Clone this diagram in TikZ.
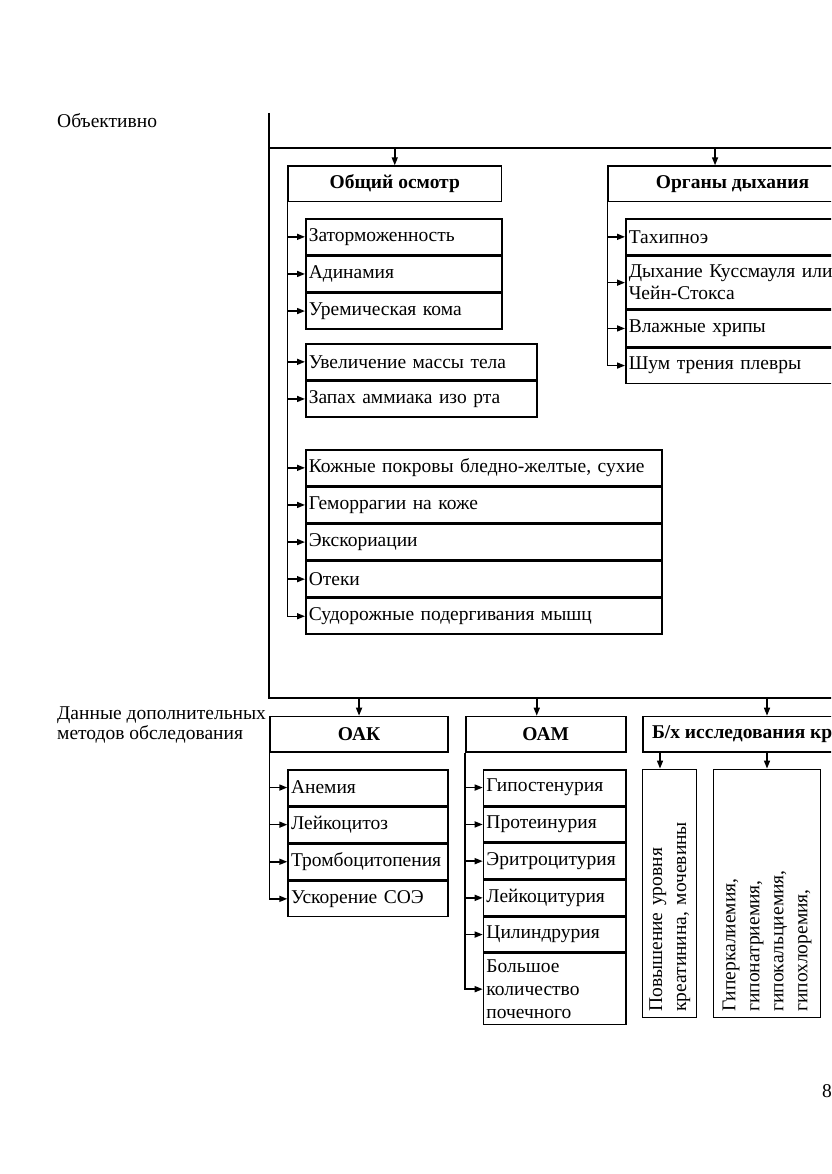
\documentclass[tikz,border=0pt]{standalone}
\usepackage{fontspec}
\setmainfont{Liberation Serif}
\usetikzlibrary{arrows.meta,positioning}

\tikzset{
	txt/.style={font=\fontsize{19.5}{22}\selectfont},
	link/.style={line width=1.5pt},
	arr/.style={line width=1.5pt, -{Triangle[length=8pt,width=6pt]}},
	head/.style={draw, line width=1.5pt, anchor=north west, minimum height=35.5pt, inner sep=0pt, font=\bfseries\fontsize{19.5}{22}\selectfont},
	item/.style={draw, line width=1.5pt, anchor=north west, minimum height=35.6pt, inner xsep=3pt, inner ysep=2pt, align=left, txt},
	vbox/.style={draw, line width=1.5pt, rotate=90, minimum height=54pt, inner xsep=6pt, inner ysep=2pt, align=left, font=\fontsize{19.5}{24}\selectfont}
}

\begin{document}
\begin{tikzpicture}[x=1pt, y=-1pt]
	\useasboundingbox (0,0) rectangle (831,1174);
	\clip (0,0) rectangle (831,1174);

	% Labels on the left
	\node[txt, anchor=base west, inner sep=0pt] (obj) at (57,128) {Объективно};
	\node[txt, anchor=north west, inner sep=0pt, align=left, font=\fontsize{19.5}{18}\selectfont] (dop) at (57,707) {Данные дополнительных\\методов обследования};
	\node[txt, anchor=base west, inner sep=0pt] (pg) at (822,1097) {8};

	% Bus lines
	\coordinate (tl) at (269,113);
	\coordinate (b1) at (269,148);
	\coordinate (bl) at (269,698);
	\draw[link] (tl) -- (bl) -- ++(600,0);
	\draw[link] (b1) -- ++(600,0);

	% Heads
	\node[head, minimum width=213.4pt] (oo) at (287.3,165.3) {Общий осмотр};
	\node[head, minimum width=249pt] (resp) at (607.3,165.3) {Органы дыхания};
	\node[head, minimum width=178pt] (oak) at (269.3,715.7) {ОАК};
	\node[head, minimum width=160pt] (oam) at (465,715.7) {ОАМ};
	\node[head, inner xsep=9pt] (bx) at (642.3,715.7) {Б/х исследования крови};

	% Общий осмотр
	\node[item, text width=190pt] (o1) at (305,218.3) {Заторможенность};
	\node[item, text width=190pt] (o2) at (o1.south west) {Адинамия};
	\node[item, text width=190pt] (o3) at (o2.south west) {Уремическая кома};
	\node[item, text width=225pt] (o4) at (305,343.3) {Увеличение массы тела};
	\node[item, text width=225pt] (o5) at (o4.south west) {Запах аммиака изо рта};
	\node[item, text width=350pt] (o6) at (305,449.3) {Кожные покровы бледно-желтые, сухие};
	\node[item, text width=350pt] (o7) at (o6.south west) {Геморрагии на коже};
	\node[item, text width=350pt] (o8) at (o7.south west) {Экскориации};
	\node[item, text width=350pt] (o9) at (o8.south west) {Отеки};
	\node[item, text width=350pt] (o10) at (o9.south west) {Судорожные подергивания мышц};

	% Органы дыхания
	\node[item, text width=225pt] (r1) at (625,218.3) {Тахипноэ};
	\node[item, text width=225pt, minimum height=53pt] (r2) at (r1.south west) {Дыхание Куссмауля или\\Чейн-Стокса};
	\node[item, text width=225pt] (r3) at (r2.south west) {Влажные хрипы};
	\node[item, text width=225pt] (r4) at (r3.south west) {Шум трения плевры};

	% ОАК
	\node[item, text width=154pt] (k1) at (287.3,769) {Анемия};
	\node[item, text width=154pt] (k2) at (k1.south west) {Лейкоцитоз};
	\node[item, text width=154pt] (k3) at (k2.south west) {Тромбоцитопения};
	\node[item, text width=154pt] (k4) at (k3.south west) {Ускорение СОЭ};

	% ОАМ
	\node[item, text width=136.3pt] (m1) at (482.7,769) {Гипостенурия};
	\node[item, text width=136.3pt, minimum height=35.2pt] (m2) at (m1.south west) {Протеинурия};
	\node[item, text width=136.3pt, minimum height=35.2pt] (m3) at (m2.south west) {Эритроцитурия};
	\node[item, text width=136.3pt, minimum height=35.2pt] (m4) at (m3.south west) {Лейкоцитурия};
	\node[item, text width=136.3pt, minimum height=35.2pt] (m5) at (m4.south west) {Цилиндрурия};
	\node[item, text width=136.3pt, minimum height=71pt, font=\fontsize{19.5}{23}\selectfont] (m6) at (m5.south west) {Большое\\количество\\почечного};

	% Б/х
	\node[vbox, text width=236.4pt] (v1) at (669.7,893.5) {Повышение уровня\\креатинина, мочевины};
	\node[vbox, text width=236.4pt, minimum height=107.4pt] (v2) at (767,893.5) {Гиперкалиемия,\\гипонатриемия,\\гипокальциемия,\\гипохлоремия,};

	% Arrows from the bus lines
	\draw[arr] (oo.north |- b1) -- (oo.north);
	\draw[arr] ([xshift=-17.5pt]resp.north |- b1) -- ([xshift=-17.5pt]resp.north);
	\draw[arr] (oak.north |- bl) -- (oak.north);
	\draw[arr] ([xshift=-9pt]oam.north |- bl) -- ([xshift=-9pt]oam.north);
	\draw[arr] (v2.east |- bl) -- (v2.east |- bx.north);
	\draw[arr] ([xshift=-9.7pt]v1.east |- bx.south) -- ([xshift=-9.7pt]v1.east);
	\draw[arr] (v2.east |- bx.south) -- (v2.east);

	% Branches
	\draw[arr] (oo.south west) |- (o10.west);
	\foreach \n in {o1,o2,o3,o4,o5,o6,o7,o8,o9}
		\draw[arr] (oo.south west |- \n.west) -- (\n.west);
	\draw[arr] (resp.south west) |- (r4.west);
	\foreach \n in {r1,r2,r3}
		\draw[arr] (resp.south west |- \n.west) -- (\n.west);
	\draw[arr] (oak.south west) |- (k4.west);
	\foreach \n in {k1,k2,k3}
		\draw[arr] (oak.south west |- \n.west) -- (\n.west);
	\draw[arr] (oam.south west) |- (m6.west);
	\foreach \n in {m1,m2,m3,m4,m5}
		\draw[arr] (oam.south west |- \n.west) -- (\n.west);
\end{tikzpicture}
\end{document}
